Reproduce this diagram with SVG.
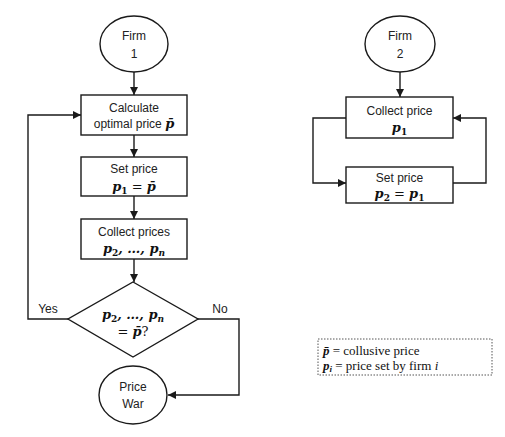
<svg xmlns="http://www.w3.org/2000/svg" width="505" height="437" viewBox="0 0 505 437">
<style>
.s{fill:#fff;stroke:#1a1a1a;stroke-width:1.4}
.t{font-family:"Liberation Sans",Arial,sans-serif;font-size:12px;fill:#222;text-anchor:middle}
.m{font-family:"DejaVu Serif","Liberation Serif",serif;font-size:13px;font-weight:bold;font-style:italic;fill:#111;text-anchor:middle}
.r{font-style:normal;font-weight:normal}
.sub{font-size:9px;font-style:normal}
.subi{font-size:9px;font-style:italic}
.c{fill:none;stroke:#1a1a1a;stroke-width:1.4}
.lg{font-family:"Liberation Serif","Times New Roman",serif;font-size:13px;fill:#111}
</style>
<defs>
<marker id="a" viewBox="0 0 10 10" refX="10" refY="5" markerWidth="8" markerHeight="8" markerUnits="userSpaceOnUse" orient="auto">
<path d="M0,0 L10,5 L0,10 z" fill="#1a1a1a"/>
</marker>
</defs>
<rect width="505" height="437" fill="#fff"/>
<g id="connectors">
<line class="c" x1="134" y1="72" x2="134" y2="95" marker-end="url(#a)"/>
<line class="c" x1="134" y1="135" x2="134" y2="157" marker-end="url(#a)"/>
<line class="c" x1="134" y1="196" x2="134" y2="219" marker-end="url(#a)"/>
<line class="c" x1="134" y1="259" x2="134" y2="282" marker-end="url(#a)"/>
<polyline class="c" points="68,319 28,319 28,115 81,115" marker-end="url(#a)"/>
<polyline class="c" points="198,319 239,319 239,395 168,395" marker-end="url(#a)"/>
<line class="c" x1="400" y1="72" x2="400" y2="97" marker-end="url(#a)"/>
<polyline class="c" points="346,118 313,118 313,183 346,183" marker-end="url(#a)"/>
<polyline class="c" points="453,183 486,183 486,118 453,118" marker-end="url(#a)"/>
</g>
<g id="firm1">
<ellipse class="s" cx="134" cy="44" rx="34" ry="28"/>
<text class="t" x="134" y="40">Firm</text>
<text class="t" x="134" y="58">1</text>
</g>
<g id="calc">
<rect class="s" x="81" y="95" width="106" height="40"/>
<text class="t" x="134" y="112" font-size="11.5">Calculate</text>
<text class="t" x="134" y="128" font-size="11.5">optimal price <tspan class="m" font-size="12.5">p̄</tspan></text>
</g>
<g id="setprice">
<rect class="s" x="81" y="157" width="106" height="39"/>
<text class="t" x="134" y="173" font-size="12.5">Set price</text>
<text class="m" x="134" y="191">p<tspan class="sub" dy="3">1</tspan><tspan class="r" dy="-3"> = </tspan>p̄</text>
</g>
<g id="collect">
<rect class="s" x="81" y="219" width="106" height="40"/>
<text class="t" x="134" y="236" font-size="12.5">Collect prices</text>
<text class="m" x="134" y="253">p<tspan class="sub" dy="3">2</tspan><tspan dy="-3">, …, p</tspan><tspan class="subi" dy="3">n</tspan></text>
</g>
<g id="decision">
<polygon class="s" points="133,282 198,319 133,357 68,319"/>
<text class="m" x="133" y="319">p<tspan class="sub" dy="3">2</tspan><tspan dy="-3">, …, p</tspan><tspan class="subi" dy="3">n</tspan></text>
<text class="m" x="133" y="336"><tspan class="r">= </tspan>p̄<tspan class="r">?</tspan></text>
</g>
<text class="t" x="48" y="313" font-size="11">Yes</text>
<text class="t" x="220" y="313" font-size="11">No</text>
<g id="pricewar">
<ellipse class="s" cx="133" cy="395" rx="34" ry="29"/>
<text class="t" x="133" y="391" font-size="12.5">Price</text>
<text class="t" x="133" y="408" font-size="12.5">War</text>
</g>
<g id="firm2">
<ellipse class="s" cx="400" cy="44" rx="35" ry="28"/>
<text class="t" x="400" y="40">Firm</text>
<text class="t" x="400" y="58">2</text>
</g>
<g id="collect2">
<rect class="s" x="346" y="97" width="107" height="41"/>
<text class="t" x="399.5" y="115" font-size="12.5">Collect price</text>
<text class="m" x="399.5" y="132">p<tspan class="sub" dy="3">1</tspan></text>
</g>
<g id="set2">
<rect class="s" x="346" y="167" width="107" height="36"/>
<text class="t" x="399.5" y="182" font-size="12.5">Set price</text>
<text class="m" x="399.5" y="198">p<tspan class="sub" dy="3">2</tspan><tspan class="r" dy="-3"> = </tspan>p<tspan class="sub" dy="3">1</tspan></text>
</g>
<g id="legend">
<rect x="318" y="339" width="174" height="36" fill="#fff" stroke="#555" stroke-width="1" stroke-dasharray="1.5,1.5"/>
<text class="lg" x="323" y="355"><tspan font-weight="bold" font-style="italic">p̄</tspan> = collusive price</text>
<text class="lg" x="323" y="370"><tspan font-weight="bold" font-style="italic">p<tspan font-size="9" dy="2">i</tspan></tspan><tspan dy="-2"> = price set by firm </tspan><tspan font-style="italic">i</tspan></text>
</g>
</svg>
